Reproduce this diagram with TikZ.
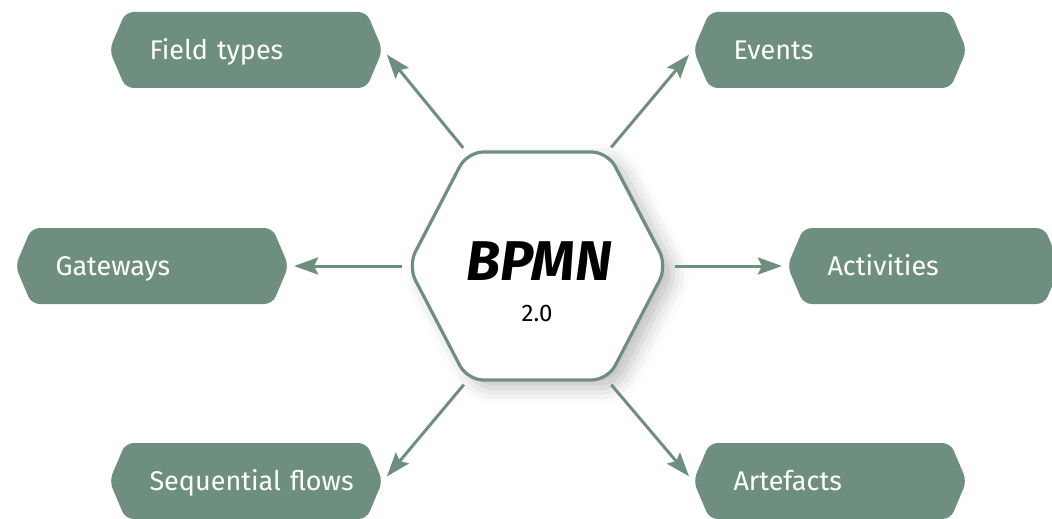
\documentclass[tikz,border=0pt]{standalone}
\usepackage{fontspec}
\setmainfont{Fira Sans}
\usepackage{xcolor}
\usepackage{tikz}
\usetikzlibrary{shapes,arrows.meta,positioning,calc,shadows.blur}
\definecolor{sagegreen}{RGB}{110, 143, 128}

\begin{document}
\begin{tikzpicture}[
    x=0.5pt, y=-0.5pt,
    hexhub/.style={signal, signal to=west and east, signal pointer angle=125, draw=sagegreen, line width=1.6pt, fill=white, rounded corners=8pt, minimum width=129.5pt, minimum height=114pt, inner sep=0pt, blur shadow={shadow xshift=5pt, shadow yshift=-4pt, shadow blur radius=8pt, shadow opacity=25}},
    topic/.style={signal, signal to=west and east, signal pointer angle=134, fill=sagegreen, draw=none, rounded corners=4pt, text=white, font=\fontsize{13.5}{16}\selectfont, text width=96.5pt, text height=10pt, text depth=0.7pt, inner xsep=12pt, minimum width=136.5pt, minimum height=38pt, align=left},
    arrow/.style={-{Stealth[length=12pt, width=8.5pt, inset=2pt]}, sagegreen, line width=1.5pt}
]
\useasboundingbox (0,0) rectangle (1052,518);

% Central hexagon
\node[hexhub] (hub) at (537.5,266) {};
\node[font=\fontsize{28}{30}\selectfont\bfseries\itshape] (hubtitle) at (539,261) {BPMN};
\node[font=\fontsize{12}{14}\selectfont] (hubversion) at (537,313) {2.0};

% Topics - Left Column
\node[topic] (fields) at (246,50) {Field types};
\node[topic] (gateways) at (152,266) {Gateways};
\node[topic] (seqflows) at (246,481) {Sequential~flows};

% Topics - Right Column
\node[topic] (events) at (830,50) {Events};
\node[topic] (activities) at (924,266) {Activities};
\node[topic] (artefacts) at (830,481) {Artefacts};

% Arrows from the hub
\draw[arrow, shorten <=2pt, shorten >=3pt] (hub.north west) -- (fields.east);
\draw[arrow, shorten <=2pt, shorten >=2.5pt] (hub.west) -- (gateways.east);
\draw[arrow, shorten <=2pt, shorten >=3pt] (hub.south west) -- (seqflows.east);
\draw[arrow, shorten <=2pt, shorten >=3pt] (hub.north east) -- (events.west);
\draw[arrow, shorten <=3pt, shorten >=2.5pt] (hub.east) -- (activities.west);
\draw[arrow, shorten <=2pt, shorten >=3pt] (hub.south east) -- (artefacts.west);

\end{tikzpicture}
\end{document}
